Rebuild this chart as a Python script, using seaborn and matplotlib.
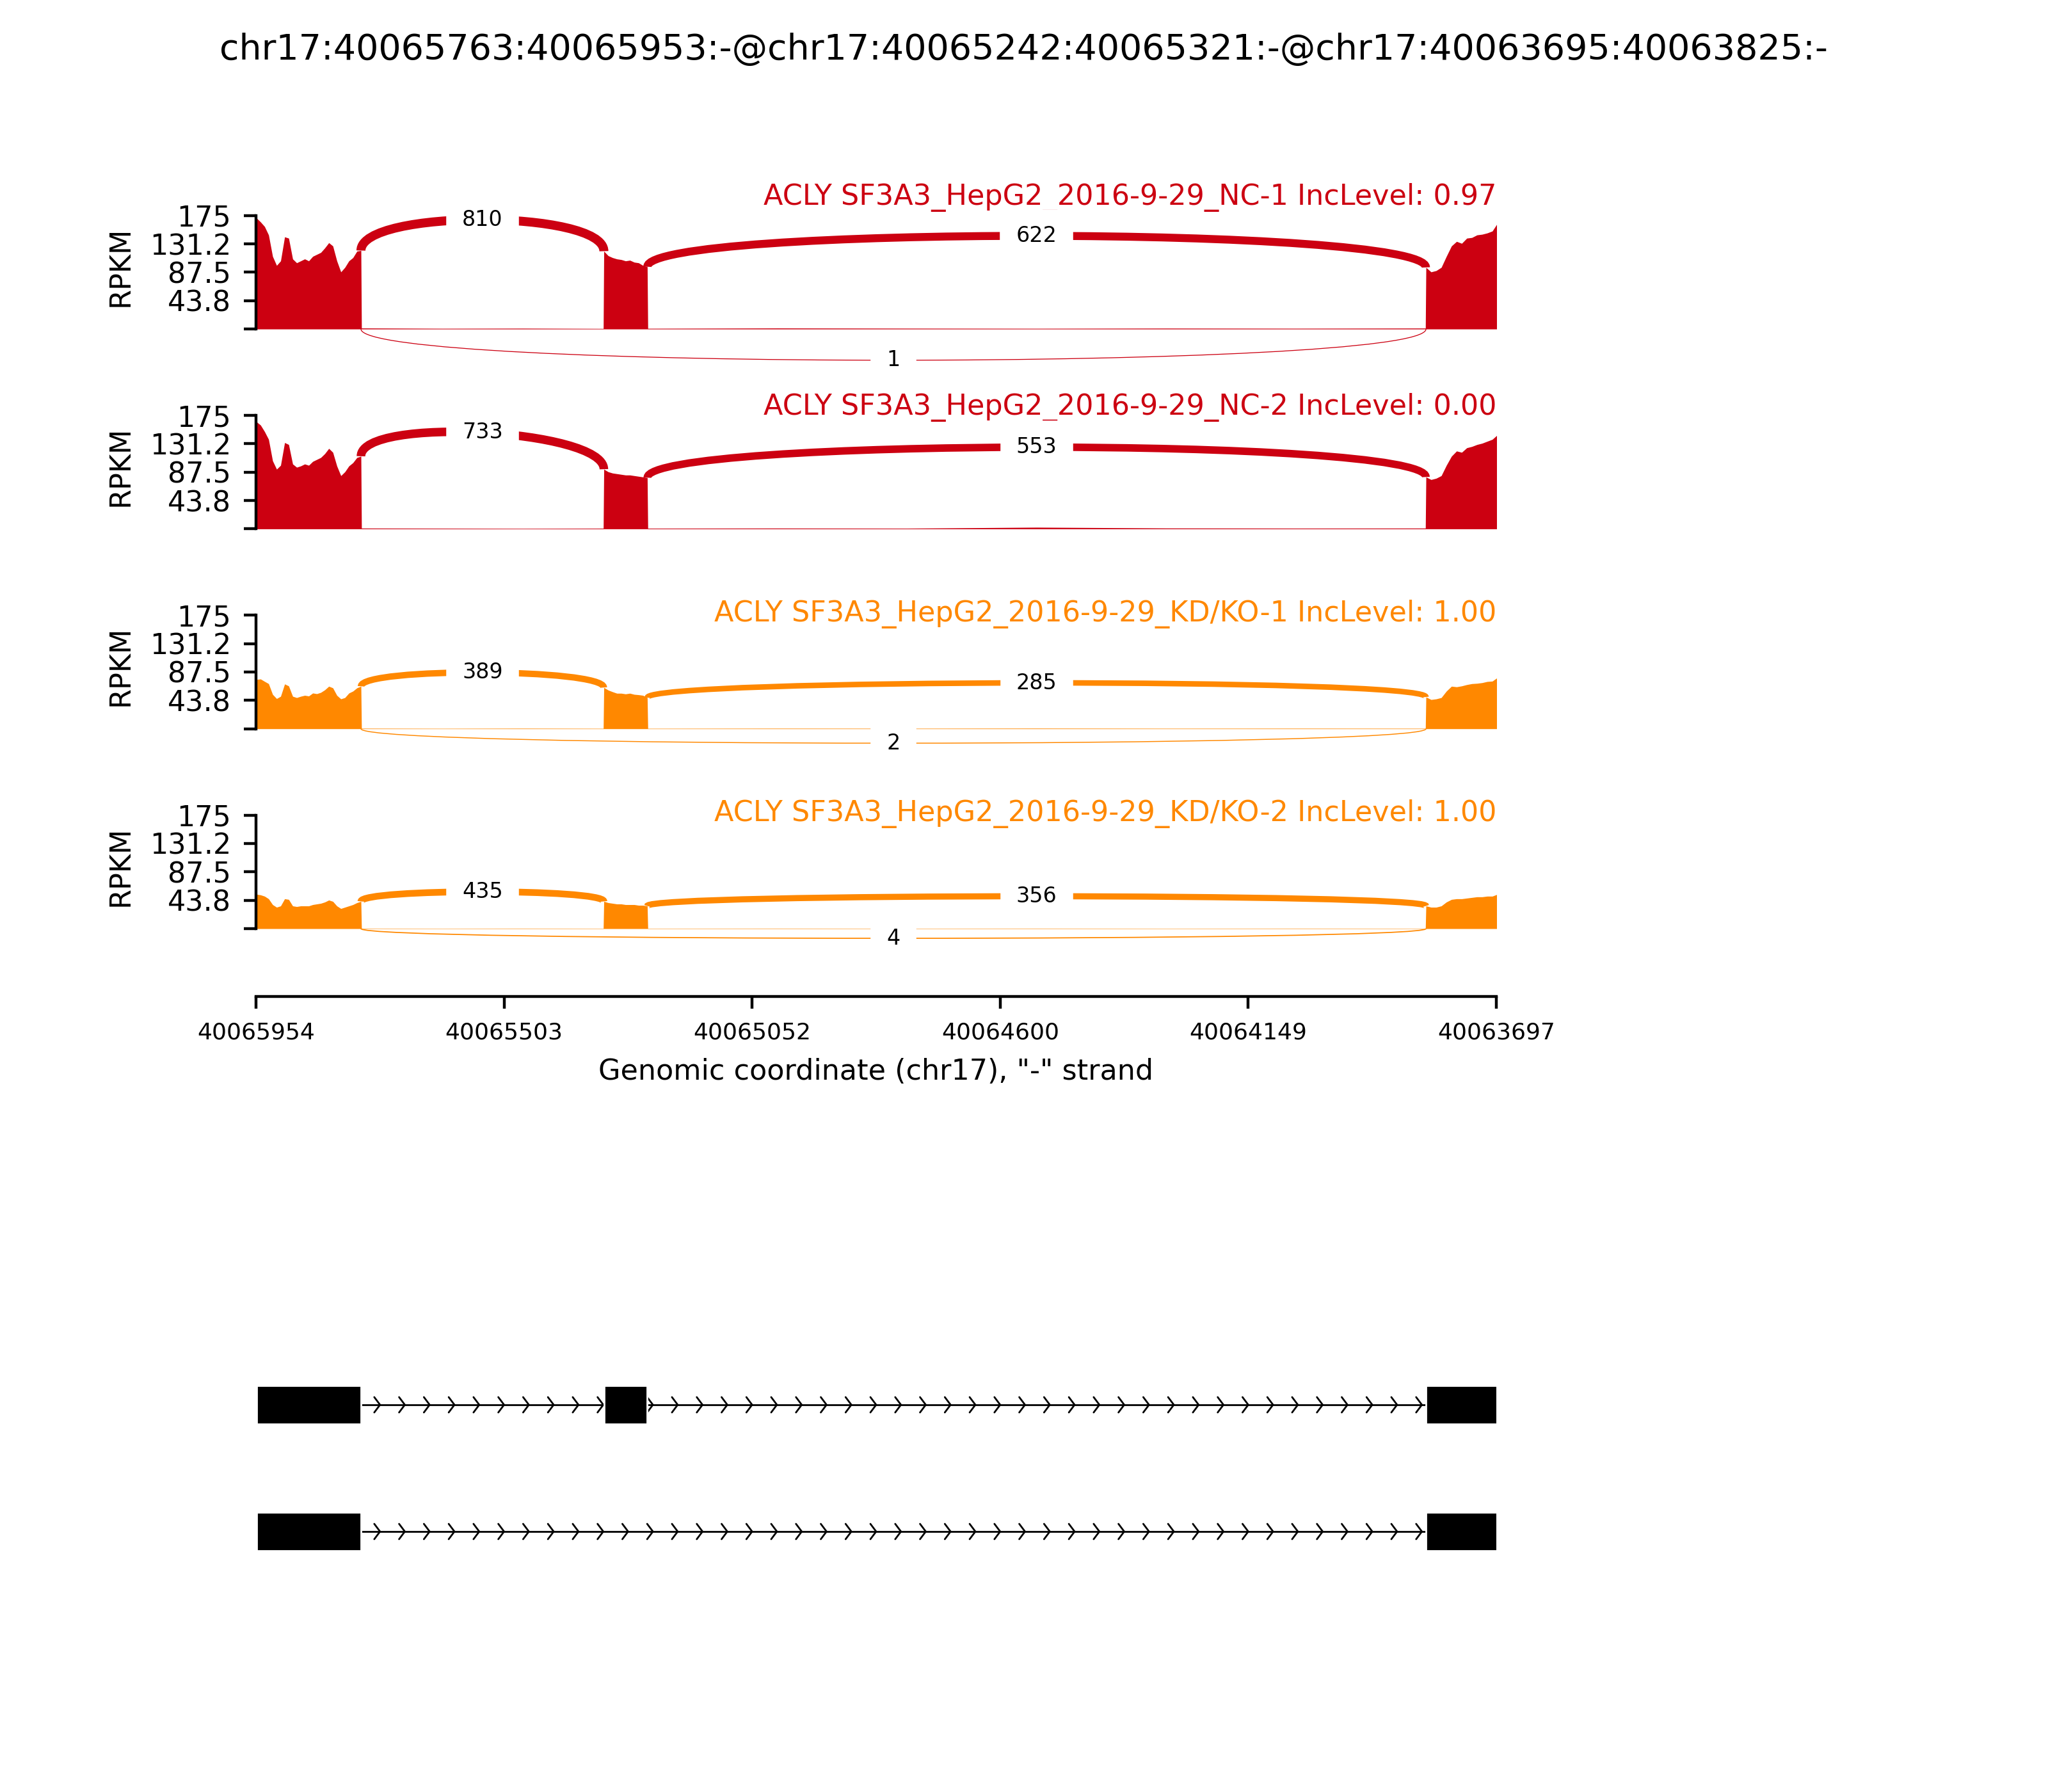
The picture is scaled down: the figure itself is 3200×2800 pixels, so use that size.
import numpy as np
import matplotlib
matplotlib.use("Agg")
import matplotlib.pyplot as plt
from matplotlib.path import Path
from matplotlib.patches import PathPatch
import seaborn as sns

# ---- data ----
title = "chr17:40065763:40065953:-@chr17:40065242:40065321:-@chr17:40063695:40063825:-"
x_start = 40065954
x_end = 40063697
x_tick_labels = ["40065954", "40065503", "40065052", "40064600", "40064149", "40063697"]
y_ticks = [0, 43.75, 87.5, 131.25, 175]
y_tick_labels = ["", "43.8", "87.5", "131.2", "175"]
y_max = 175

exon_1 = (40065763, 40065953)
exon_2 = (40065242, 40065321)
exon_3 = (40063695, 40063825)
intron_1 = (40065322, 40065762)
intron_2 = (40063826, 40065241)

sample_names = ["ACLY SF3A3_HepG2_2016-9-29_NC-1",
                "ACLY SF3A3_HepG2_2016-9-29_NC-2",
                "ACLY SF3A3_HepG2_2016-9-29_KD/KO-1",
                "ACLY SF3A3_HepG2_2016-9-29_KD/KO-2"]
inc_levels = ["0.97", "0.00", "1.00", "1.00"]
sample_colors = ["#CC0011", "#CC0011", "#FF8800", "#FF8800"]

# junction read counts
jxn_e1_e2 = [810, 733, 389, 435]
jxn_e2_e3 = [622, 553, 285, 356]
jxn_e1_e3 = [1, 0, 2, 4]

# coverage (RPKM), listed left to right as drawn
cov_e1 = [
    [171, 165, 158, 145, 112, 98, 105, 142, 140, 108, 102, 105, 108, 105, 112, 115, 118, 125, 133, 128, 105, 88, 95, 105, 110, 120, 121],
    [165, 160, 150, 138, 105, 92, 98, 133, 130, 100, 95, 97, 100, 98, 104, 107, 110, 116, 124, 118, 97, 82, 88, 97, 102, 110, 112],
    [76, 76.7, 73, 69.5, 53, 46.5, 50, 69, 66, 50, 48, 50, 51.5, 50.5, 55, 54, 56, 60, 65.5, 63, 51.5, 46, 48, 55, 58, 63, 65.5],
    [53, 52, 50, 46, 37, 33, 35, 46, 45, 35, 34, 35, 35, 35, 37, 38, 39, 41, 44, 42, 35, 31, 33, 35, 37, 40, 42],
]
cov_e2 = [
    [120, 113, 110, 108, 107, 105, 106, 103, 102, 98, 96],
    [92, 88, 86, 85, 84, 83, 83, 82, 81, 80, 79],
    [63.6, 59.6, 57, 54.7, 54.7, 53.7, 54.7, 53, 52.4, 51.5, 48],
    [42, 40, 39, 38, 38, 37, 37, 37, 36, 36, 35],
]
cov_e3 = [
    [95, 88, 90, 95, 112, 128, 135, 132, 140, 141, 145, 146, 148, 151, 163],
    [80, 76, 78, 82, 98, 112, 120, 118, 125, 127, 130, 132, 135, 138, 145],
    [49, 45, 46, 48, 58, 65.5, 64.6, 66, 68, 69.5, 70, 71, 72.8, 73.4, 79],
    [35, 33, 33, 35, 41, 45, 46, 46, 47, 48, 49, 49, 50, 50, 53],
]
cov_i1 = [
    [1.5, 1.0, 1.2, 0.8],
    [1.2, 1.0, 0.8, 1.0],
    [0.8, 0.6, 0.8, 0.6],
    [0.6, 0.5, 0.6, 0.5],
]
cov_i2 = [
    [1.0, 1.5, 1.2, 1.0, 1.3, 1.1, 1.4],
    [1.0, 1.2, 1.0, 2.5, 1.3, 1.1, 1.2],
    [0.6, 0.8, 0.7, 0.9, 0.7, 0.8, 0.7],
    [0.5, 0.6, 0.5, 0.6, 0.5, 0.6, 0.5],
]

# transcripts for the gene model (top row has the middle exon)
transcripts = [[exon_1, exon_2, exon_3], [exon_1, exon_3]]

# ---- style ----
sns.set_style("ticks", rc={"axes.edgecolor": "black", "xtick.color": "black",
                           "ytick.color": "black", "text.color": "black",
                           "axes.labelcolor": "black"})
plt.rcParams["font.family"] = ["DejaVu Sans"]

W, H = 3200, 2800
fig = plt.figure(figsize=(8, 7), dpi=400)
fig.suptitle(title, fontsize=10, y=0.972, va="center")

ax_left = 400 / W
ax_width = 1938 / W
y_low = -105
px_per_unit = 177.4 / y_max
ax_h_px = (y_max - y_low) * px_per_unit
label_y = [191.5, 175.5, 165, 166]


def segment(lo, hi, values):
    # values run from the high coordinate to the low one (left to right on a "-" strand)
    return list(np.linspace(hi, lo, len(values))), list(values)


def bezier_mid(pts):
    p = np.array(pts, float)
    return (p[0] + 3 * p[1] + 3 * p[2] + p[3]) / 8


for k in range(4):
    top_px = 336.7 + 312.3 * k
    ax = fig.add_axes([ax_left, 1 - (top_px + ax_h_px) / H, ax_width, ax_h_px / H])
    color = sample_colors[k]

    xs, ys = [], []
    for (lo, hi), vals in [(exon_1, cov_e1[k]), (intron_1, cov_i1[k]), (exon_2, cov_e2[k]),
                           (intron_2, cov_i2[k]), (exon_3, cov_e3[k])]:
        sx, sy = segment(lo, hi, vals)
        xs += sx
        ys += sy
    ax.fill_between(xs, 0, ys, color=color, lw=0)

    h = 0.375 * max(ys)
    arcs = [
        (exon_1[0], exon_2[1], cov_e1[k][-1], cov_e2[k][0], jxn_e1_e2[k], True),
        (exon_2[0], exon_3[1], cov_e2[k][-1], cov_e3[k][0], jxn_e2_e3[k], True),
        (exon_1[0], exon_3[1], 0, 0, jxn_e1_e3[k], False),
    ]
    for ss1, ss2, ldens, rdens, count, above in arcs:
        if count == 0:
            continue
        if above:
            pts = [(ss1, ldens), (ss1, ldens + h), (ss2, rdens + h), (ss2, rdens)]
        else:
            pts = [(ss1, 0), (ss1, -h), (ss2, -h), (ss2, 0)]
        path = Path(pts, [Path.MOVETO, Path.CURVE4, Path.CURVE4, Path.CURVE4])
        ax.add_patch(PathPatch(path, ec=color, fc="none",
                               lw=0.15 + 0.0835 * np.sqrt(count), zorder=3))
        mx, my = bezier_mid(pts)
        ax.text(mx, my, str(count), fontsize=6, ha="center", va="center",
                backgroundcolor="white", zorder=4)

    ax.text(x_end, label_y[k], sample_names[k] + " IncLevel: " + inc_levels[k],
            ha="right", va="baseline", fontsize=8, color=color)

    ax.set_xlim(x_start, x_end)
    ax.set_ylim(y_low, y_max)
    ax.set_yticks(y_ticks)
    ax.set_yticklabels(y_tick_labels, fontsize=8)
    ax.set_ylabel("RPKM", fontsize=8)
    ax.yaxis.set_label_coords(-0.098, 0.72)
    ax.spines["left"].set_bounds(0, y_max)
    ax.spines["top"].set_visible(False)
    ax.spines["right"].set_visible(False)
    ax.tick_params(axis="y", length=3.5, width=0.8, direction="out")
    if k < 3:
        ax.spines["bottom"].set_visible(False)
        ax.set_xticks([])
    else:
        ax.set_xticks(np.linspace(x_start, x_end, 6))
        ax.set_xticklabels(x_tick_labels, fontsize=6.5)
        ax.tick_params(axis="x", length=3.5, width=0.8, direction="out")
        ax.set_xlabel('Genomic coordinate (chr17), "-" strand', fontsize=8)

# ---- gene model ----
gax = fig.add_axes([ax_left, 1 - 2494 / H, ax_width, 400 / H])
gax.set_xlim(x_start, x_end)
gax.set_ylim(-0.51, 1.51)
gax.axis("off")
exon_w = 0.303
n_arrows = 50
spread = 10.5
for row, exons in enumerate(transcripts):
    yloc = 1 - row
    first_end = min(exons[0])
    last_start = max(exons[-1])
    sns.lineplot(x=[first_end, last_start], y=[yloc, yloc], color="k", lw=0.5,
                 ax=gax, estimator=None, sort=False)
    for i in range(n_arrows):
        loc = x_start - i * (x_start - x_end) / n_arrows
        if last_start < loc < first_end:
            gax.plot([loc + spread, loc, loc + spread],
                     [yloc - exon_w / 5, yloc, yloc + exon_w / 5], color="k", lw=0.5)
    for lo, hi in exons:
        gax.fill([lo, hi, hi, lo], [yloc - exon_w / 2, yloc - exon_w / 2, yloc + exon_w / 2, yloc + exon_w / 2],
                 "k", lw=0.5, zorder=20)

fig.savefig("out.png", dpi=400)
